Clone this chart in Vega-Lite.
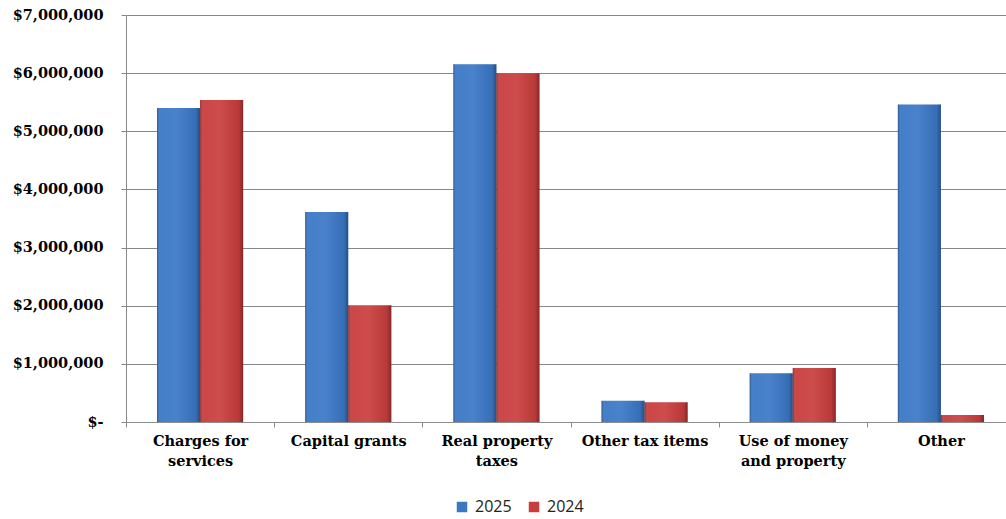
{
  "$schema": "https://vega.github.io/schema/vega-lite/v6.json",
  "autosize": {"type": "none"},
  "padding": {"left": 126, "top": 15, "right": -9, "bottom": 97},
  "width": 889,
  "height": 407,
  "background": "white",
  "data": {
    "values": [
      {"category": "Charges for services", "year": "2025", "amount": 5400000},
      {"category": "Charges for services", "year": "2024", "amount": 5540000},
      {"category": "Capital grants", "year": "2025", "amount": 3610000},
      {"category": "Capital grants", "year": "2024", "amount": 2010000},
      {"category": "Real property taxes", "year": "2025", "amount": 6155000},
      {"category": "Real property taxes", "year": "2024", "amount": 6000000},
      {"category": "Other tax items", "year": "2025", "amount": 365000},
      {"category": "Other tax items", "year": "2024", "amount": 340000},
      {"category": "Use of money and property", "year": "2025", "amount": 840000},
      {"category": "Use of money and property", "year": "2024", "amount": 930000},
      {"category": "Other", "year": "2025", "amount": 5460000},
      {"category": "Other", "year": "2024", "amount": 120000}
    ]
  },
  "encoding": {
    "x": {
      "field": "category",
      "type": "nominal",
      "sort": ["Charges for services", "Capital grants", "Real property taxes", "Other tax items", "Use of money and property", "Other"],
      "scale": {"paddingInner": 0, "paddingOuter": 0},
      "axis": {
        "title": null,
        "labelAngle": 0,
        "tickBand": "extent",
        "tickSize": 5,
        "tickColor": "#8c8c8c",
        "domainColor": "#8c8c8c",
        "labelFont": "DejaVu Serif",
        "labelFontWeight": "bold",
        "labelFontSize": 14.5,
        "labelColor": "#000000",
        "labelPadding": 7,
        "labelLineHeight": 20,
        "labelExpr": "datum.label == 'Charges for services' ? ['Charges for', 'services'] : datum.label == 'Real property taxes' ? ['Real property', 'taxes'] : datum.label == 'Use of money and property' ? ['Use of money', 'and property'] : datum.label"
      }
    },
    "xOffset": {
      "field": "year",
      "type": "nominal",
      "sort": ["2025", "2024"],
      "scale": {"paddingInner": 0, "paddingOuter": 0.72}
    },
    "y": {
      "field": "amount",
      "type": "quantitative",
      "scale": {"domain": [0, 7000000], "nice": false},
      "axis": {
        "title": null,
        "values": [0, 1000000, 2000000, 3000000, 4000000, 5000000, 6000000, 7000000],
        "grid": true,
        "gridColor": "#888888",
        "gridWidth": 1,
        "domainColor": "#888888",
        "tickColor": "#888888",
        "tickSize": 5,
        "labelPadding": 18,
        "labelFont": "DejaVu Serif",
        "labelFontWeight": "bold",
        "labelFontSize": 14.5,
        "labelColor": "#000000",
        "labelExpr": "datum.value == 0 ? '$-' : format(datum.value, '$,.0f')"
      }
    }
  },
  "layer": [
    {
      "mark": {"type": "bar"},
      "encoding": {
        "color": {
          "field": "year",
          "type": "nominal",
          "sort": ["2025", "2024"],
          "scale": {"domain": ["2025", "2024"], "range": ["#3a78c6", "#c93d3d"]},
          "legend": {
            "title": null,
            "orient": "none",
            "direction": "horizontal",
            "legendX": 328,
            "legendY": 484,
            "symbolType": "square",
            "symbolSize": 110,
            "symbolStrokeWidth": 0,
            "labelFont": "Open Sans",
            "labelFontSize": 16,
            "labelColor": "#222222",
            "labelOffset": 5,
            "columnPadding": 14
          }
        }
      }
    },
    {
      "mark": {
        "type": "bar",
        "color": {
          "gradient": "linear",
          "x1": 0, "x2": 1, "y1": 0, "y2": 0,
          "stops": [
            {"offset": 0, "color": "rgba(0,0,0,0.3)"},
            {"offset": 0.08, "color": "rgba(255,255,255,0.05)"},
            {"offset": 0.45, "color": "rgba(255,255,255,0.08)"},
            {"offset": 0.9, "color": "rgba(0,0,0,0.08)"},
            {"offset": 1, "color": "rgba(0,0,0,0.35)"}
          ]
        }
      }
    }
  ]
}
